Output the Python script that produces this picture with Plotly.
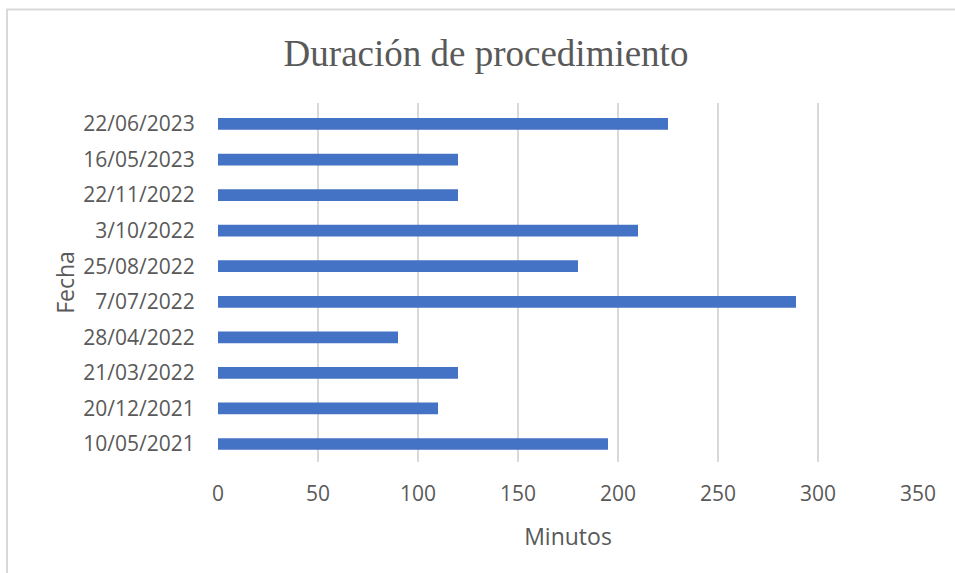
import plotly.graph_objects as go

# Procedure dates (bottom to top) and duration in minutes
fechas = ["10/05/2021", "20/12/2021", "21/03/2022", "28/04/2022", "7/07/2022",
          "25/08/2022", "3/10/2022", "22/11/2022", "16/05/2023", "22/06/2023"]
minutos = [195, 110, 120, 90, 289, 180, 210, 120, 120, 225]
x_ticks = [0, 50, 100, 150, 200, 250, 300, 350]

W, H = 955, 573
L, R, T, B = 218, 37, 103, 111
pw, ph = W - L - R, H - T - B

def px_x(px):
    return (px - L) / pw

def px_y(py):
    return (H - B - py) / ph

fig = go.Figure(go.Bar(
    x=minutos, y=fechas, orientation="h",
    marker=dict(color="#4472C4", line=dict(width=0)),
    width=0.33,
))

tick_font = dict(family="Open Sans", size=21, color="#595959")
axis_title_font = dict(family="Open Sans", size=23, color="#595959")

fig.update_layout(
    width=W, height=H,
    margin=dict(l=L, r=R, t=T, b=B),
    paper_bgcolor="white", plot_bgcolor="white",
    showlegend=False,
    title=dict(text="Duración de procedimiento",
               font=dict(family="Liberation Serif", size=37, color="#595959"),
               x=px_x(486), xref="paper", xanchor="center",
               y=1 - 53 / H, yanchor="middle"),
    xaxis=dict(range=[0, 350], tickvals=x_ticks, showgrid=True,
               gridcolor="#D9D9D9", gridwidth=1.5, zeroline=False,
               showline=False, tickfont=tick_font,
               ticks="outside", ticklen=13, tickcolor="rgba(0,0,0,0)",
               title=dict(text="Minutos", font=axis_title_font, standoff=22)),
    yaxis=dict(categoryorder="array", categoryarray=fechas,
               range=[-0.506, 9.59],
               showgrid=False, zeroline=False, showline=False,
               tickfont=tick_font, ticks="outside", ticklen=18,
               tickcolor="rgba(0,0,0,0)",
               title=dict(text="Fecha", font=axis_title_font, standoff=2)),
    shapes=[
        dict(type="line", xref="paper", yref="paper",
             x0=px_x(7), x1=px_x(7), y0=px_y(9.5), y1=px_y(H + 5),
             line=dict(color="#D9D9D9", width=2)),
        dict(type="line", xref="paper", yref="paper",
             x0=px_x(6), x1=px_x(W + 5), y0=px_y(9.5), y1=px_y(9.5),
             line=dict(color="#D9D9D9", width=2)),
    ],
)

fig.write_html("out.html")
